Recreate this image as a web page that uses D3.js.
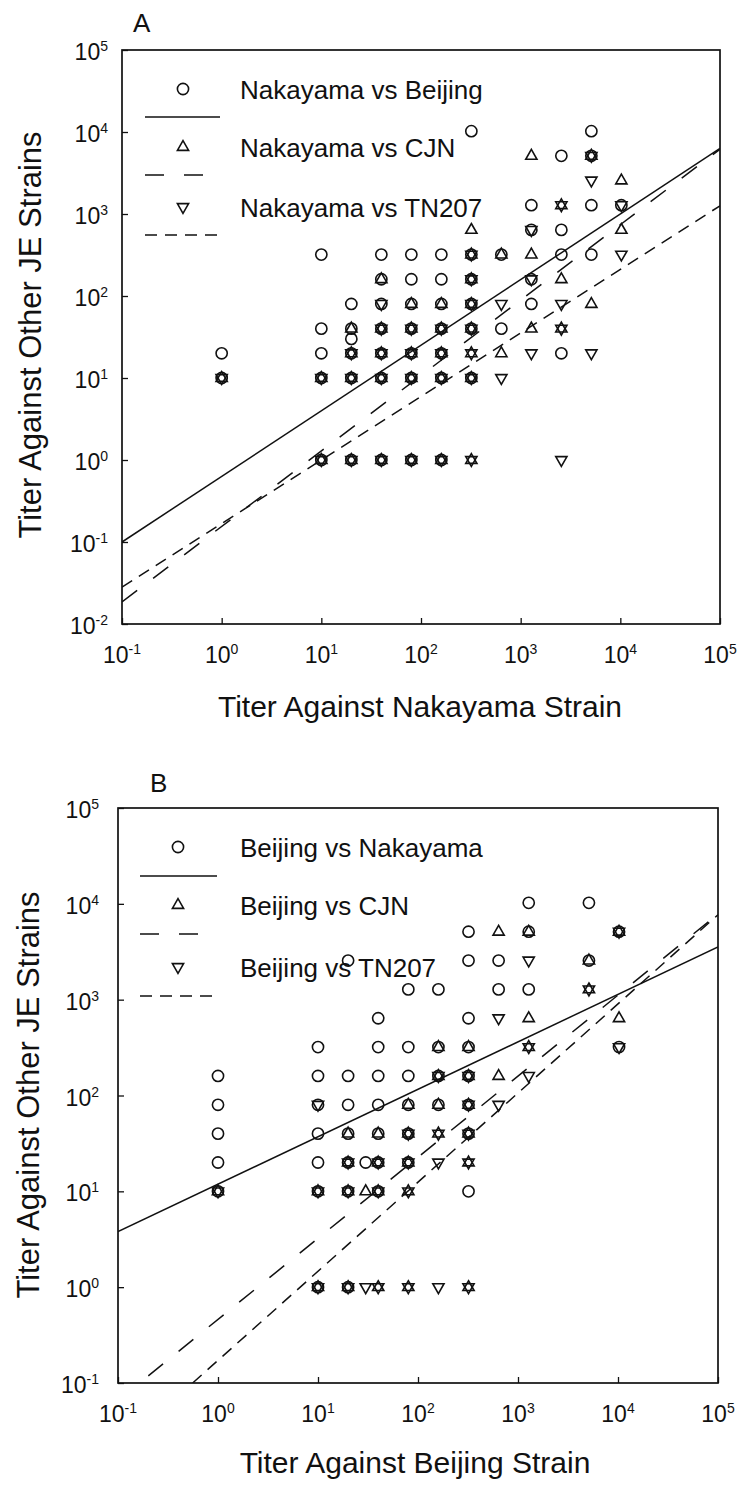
<!DOCTYPE html>
<html>
<head>
<meta charset="utf-8">
<style>
  body { margin: 0; background: #fff; }
  svg { display: block; font-family: "Liberation Sans", Arial, Helvetica, sans-serif; }
</style>
</head>
<body>
<script src="https://cdn.jsdelivr.net/npm/d3@7/dist/d3.min.js"></script>
<script>
// ---- data: [titer vs reference strain, titer vs other strain] ----
// panel A: Nakayama as reference
const nakVsBeijing = [
  [320,10240],[5120,10240],
  [2560,5120],[5120,5120],
  [1280,1280],[5120,1280],[10240,1280],
  [1280,640],[2560,640],
  [10,320],[40,320],[80,320],[160,320],[320,320],[640,320],[2560,320],[5120,320],
  [40,160],[80,160],[160,160],[320,160],[1280,160],
  [20,80],[40,80],[80,80],[160,80],[320,80],[1280,80],
  [10,40],[20,40],[40,40],[80,40],[160,40],[320,40],[640,40],
  [20,30],
  [1,20],[10,20],[20,20],[40,20],[80,20],[160,20],[2560,20],
  [1,10],[10,10],[20,10],[40,10],[80,10],[160,10],[320,10],
  [10,1],[20,1],[40,1],[80,1],[160,1]
];
const nakVsCJN = [
  [1280,5120],[5120,5120],
  [10240,2560],
  [2560,1280],
  [320,640],[10240,640],
  [320,320],[640,320],[1280,320],
  [40,160],[320,160],[2560,160],
  [80,80],[160,80],[320,80],[5120,80],
  [20,40],[40,40],[80,40],[160,40],[320,40],[1280,40],[2560,40],
  [20,20],[40,20],[80,20],[160,20],[320,20],[640,20],
  [1,10],[10,10],[20,10],[40,10],[80,10],[160,10],[320,10],
  [10,1],[20,1],[40,1],[80,1],[160,1],[320,1]
];
const nakVsTN207 = [
  [5120,5120],
  [5120,2560],
  [2560,1280],[10240,1280],
  [1280,640],
  [320,320],[10240,320],
  [320,160],[1280,160],
  [40,80],[320,80],[640,80],[2560,80],
  [40,40],[80,40],[160,40],[320,40],[2560,40],
  [20,20],[40,20],[80,20],[160,20],[320,20],[1280,20],[5120,20],
  [1,10],[10,10],[20,10],[40,10],[80,10],[160,10],[320,10],[640,10],
  [10,1],[20,1],[40,1],[80,1],[160,1],[320,1],[2560,1]
];
// panel B: Beijing as reference
const bjVsNakayama = [
  [1280,10240],[5120,10240],
  [320,5120],[1280,5120],[10240,5120],
  [20,2560],[320,2560],[640,2560],[5120,2560],
  [80,1280],[160,1280],[640,1280],[1280,1280],
  [40,640],[320,640],
  [10,320],[40,320],[80,320],[160,320],[320,320],[10240,320],
  [1,160],[10,160],[20,160],[40,160],[80,160],[160,160],[320,160],
  [1,80],[10,80],[20,80],[40,80],[80,80],[160,80],[320,80],
  [1,40],[10,40],[20,40],[40,40],[80,40],[320,40],
  [1,20],[10,20],[20,20],[30,20],[40,20],[80,20],
  [1,10],[10,10],[20,10],[40,10],[320,10],
  [10,1],[20,1]
];
const bjVsCJN = [
  [640,5120],[1280,5120],[10240,5120],
  [5120,2560],
  [5120,1280],
  [1280,640],[10240,640],
  [160,320],[320,320],[1280,320],
  [160,160],[320,160],[640,160],
  [80,80],[160,80],[320,80],
  [20,40],[40,40],[80,40],[160,40],[320,40],
  [20,20],[40,20],[80,20],[320,20],
  [1,10],[10,10],[20,10],[30,10],[40,10],[80,10],
  [10,1],[20,1],[40,1],[80,1],[320,1]
];
const bjVsTN207 = [
  [10240,5120],
  [1280,2560],
  [5120,1280],
  [640,640],
  [1280,320],[10240,320],
  [160,160],[320,160],[1280,160],
  [10,80],[320,80],[640,80],
  [80,40],[160,40],[320,40],
  [20,20],[40,20],[80,20],[160,20],[320,20],
  [1,10],[10,10],[20,10],[40,10],[80,10],
  [10,1],[20,1],[30,1],[40,1],[80,1],[160,1],[320,1]
];

// regression lines: log10(y) = slope * log10(x) + intercept
const fitSlopeA = [0.80, 0.92, 0.775];
const fitInterceptA = [-0.20, -0.81, -0.775];
const fitSlopeB = [0.495, 0.846, 0.93];
const fitInterceptB = [1.075, -0.336, -0.764];

const legendA = ["Nakayama vs Beijing", "Nakayama vs CJN", "Nakayama vs TN207"];
const legendB = ["Beijing vs Nakayama", "Beijing vs CJN", "Beijing vs TN207"];

const xExp = [-1, 0, 1, 2, 3, 4, 5];
const yExpA = [-2, -1, 0, 1, 2, 3, 4, 5];
const yExpB = [-1, 0, 1, 2, 3, 4, 5];

// ---- drawing ----
const W = 740, H = 1490;
const ink = "#111";
const svg = d3.select("body").append("svg").attr("width", W).attr("height", H);

// triangles roughly inscribed in the circle so overlaps read as bold rings
const markerPath = {
  circle: d3.symbol().type(d3.symbolCircle).size(Math.PI * 5.6 * 5.6)(),
  up: "M0,-6.4L5.6,3.4L-5.6,3.4Z",
  down: "M0,6.4L5.6,-3.4L-5.6,-3.4Z"
};
const shapes = ["circle", "up", "down"];
const dashes = [null, "19,20", "12,8"];

function drawPanel(cfg, idx) {
  const x = d3.scaleLog().domain([0.1, 1e5]).range([cfg.left, cfg.right]);
  const y = d3.scaleLog().domain(cfg.yDomain).range([cfg.bottom, cfg.top]);
  const g = svg.append("g");

  g.append("clipPath").attr("id", "clip" + idx)
    .append("rect")
    .attr("x", cfg.left).attr("y", cfg.top)
    .attr("width", cfg.right - cfg.left).attr("height", cfg.bottom - cfg.top);

  // inward ticks
  const xAxis = d3.axisBottom(x).tickValues(xExp.map(e => 10 ** e)).tickSize(-6).tickFormat("");
  const yAxis = d3.axisLeft(y).tickValues(cfg.yExp.map(e => 10 ** e)).tickSize(-6).tickFormat("");
  g.append("g").attr("transform", `translate(0,${cfg.bottom})`).call(xAxis)
    .call(s => s.select(".domain").remove())
    .selectAll("line").attr("stroke", ink).attr("stroke-width", 1.3);
  g.append("g").attr("transform", `translate(${cfg.left},0)`).call(yAxis)
    .call(s => s.select(".domain").remove())
    .selectAll("line").attr("stroke", ink).attr("stroke-width", 1.3);

  // frame
  g.append("rect")
    .attr("x", cfg.left).attr("y", cfg.top)
    .attr("width", cfg.right - cfg.left).attr("height", cfg.bottom - cfg.top)
    .attr("fill", "none").attr("stroke", ink).attr("stroke-width", 1.7);

  // tick labels
  const xl = g.selectAll(".xlab").data(xExp).enter().append("text")
    .attr("x", d => x(10 ** d)).attr("y", cfg.xLabY)
    .attr("text-anchor", "middle").attr("font-size", 23).attr("fill", ink);
  xl.append("tspan").text("10");
  xl.append("tspan").attr("dy", -9).attr("font-size", 14).text(d => d);

  const yl = g.selectAll(".ylab").data(cfg.yExp).enter().append("text")
    .attr("x", cfg.yLabX).attr("y", d => y(10 ** d) + 10)
    .attr("text-anchor", "end").attr("font-size", 23).attr("fill", ink);
  yl.append("tspan").text("10");
  yl.append("tspan").attr("dy", -9).attr("font-size", 14).text(d => d);

  // axis titles
  g.append("text").attr("x", cfg.xTitleX).attr("y", cfg.xTitleY)
    .attr("text-anchor", "middle").attr("font-size", 30).attr("fill", ink)
    .text(cfg.xTitle);
  g.append("text")
    .attr("transform", `translate(${cfg.yTitleX},${cfg.yTitleY}) rotate(-90)`)
    .attr("text-anchor", "middle").attr("font-size", 31).attr("fill", ink)
    .text("Titer Against Other JE Strains");

  // panel letter
  g.append("text").attr("x", cfg.letterX).attr("y", cfg.letterY)
    .attr("font-size", 26).attr("fill", ink).text(cfg.letter);

  // regression lines
  const line = d3.line().x(d => x(d[0])).y(d => y(d[1]));
  cfg.slopes.forEach((m, i) => {
    const b = cfg.intercepts[i];
    const ends = [0.1, 1e5].map(v => [v, 10 ** (m * Math.log10(v) + b)]);
    g.append("path")
      .attr("clip-path", `url(#clip${idx})`)
      .attr("d", line(ends))
      .attr("fill", "none").attr("stroke", ink).attr("stroke-width", 1.5)
      .attr("stroke-dasharray", dashes[i]);
  });

  // points
  cfg.series.forEach((pts, i) => {
    g.selectAll(".s" + i).data(pts).enter().append("path")
      .attr("class", "s" + i)
      .attr("transform", d => `translate(${x(d[0])},${y(d[1])})`)
      .attr("d", markerPath[shapes[i]])
      .attr("fill", "none").attr("stroke", ink).attr("stroke-width", 1.6);
  });

  // legend
  const lg = g.append("g");
  cfg.legend.forEach((name, i) => {
    const ly = cfg.legendY[i];
    lg.append("path").attr("transform", `translate(${cfg.legendSymX},${ly})`)
      .attr("d", markerPath[shapes[i]])
      .attr("fill", "none").attr("stroke", ink).attr("stroke-width", 1.6);
    lg.append("text").attr("x", cfg.legendTextX).attr("y", ly + 10)
      .attr("font-size", 26).attr("fill", ink).text(name);
    lg.append("line")
      .attr("x1", cfg.legendLineX[0]).attr("x2", cfg.legendLineX[1])
      .attr("y1", ly + cfg.legendLineGap).attr("y2", ly + cfg.legendLineGap)
      .attr("stroke", ink).attr("stroke-width", 1.5)
      .attr("stroke-dasharray", dashes[i]);
  });
}

drawPanel({
  left: 122, right: 720, top: 50, bottom: 624,
  yDomain: [0.01, 1e5], yExp: yExpA,
  xLabY: 663, yLabX: 108,
  xTitle: "Titer Against Nakayama Strain", xTitleX: 420, xTitleY: 717,
  yTitleX: 41, yTitleY: 335,
  letter: "A", letterX: 133, letterY: 32,
  slopes: fitSlopeA, intercepts: fitInterceptA,
  series: [nakVsBeijing, nakVsCJN, nakVsTN207],
  legend: legendA, legendY: [89, 147, 207], legendSymX: 183,
  legendTextX: 240, legendLineX: [145, 220], legendLineGap: 28
}, 0);

drawPanel({
  left: 118, right: 718, top: 808, bottom: 1383,
  yDomain: [0.1, 1e5], yExp: yExpB,
  xLabY: 1422, yLabX: 99,
  xTitle: "Titer Against Beijing Strain", xTitleX: 415, xTitleY: 1473,
  yTitleX: 39, yTitleY: 1095,
  letter: "B", letterX: 150, letterY: 792,
  slopes: fitSlopeB, intercepts: fitInterceptB,
  series: [bjVsNakayama, bjVsCJN, bjVsTN207],
  legend: legendB, legendY: [847, 905, 967], legendSymX: 178,
  legendTextX: 240, legendLineX: [140, 217], legendLineGap: 29
}, 1);
</script>
</body>
</html>
